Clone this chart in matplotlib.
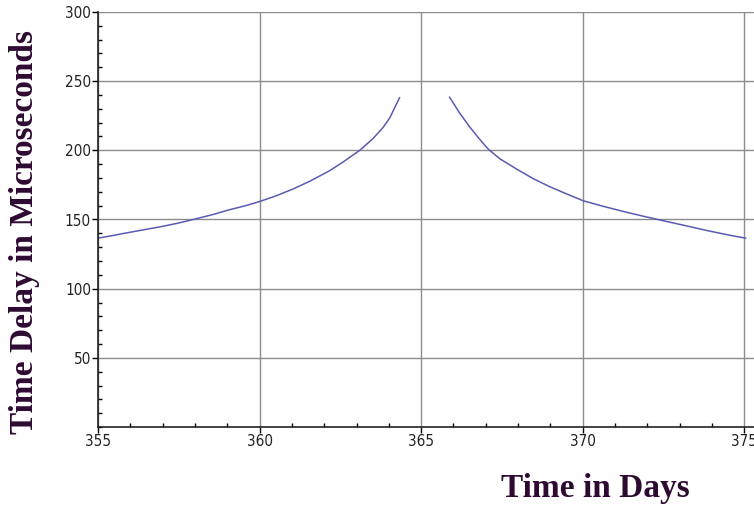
import matplotlib
matplotlib.use("Agg")
import matplotlib.pyplot as plt
from matplotlib.ticker import MultipleLocator

# curve, two branches around day 365
days_before = [355.0, 355.43, 355.95, 356.99, 357.5, 358.0, 358.54, 359.06, 359.57, 360.0,
               360.5, 361.03, 361.54, 362.17, 362.58, 363.1, 363.51, 363.82, 364.03, 364.33]
delay_before = [136.5, 138.3, 140.6, 145.0, 147.5, 150.3, 153.5, 157.0, 160.0, 163.0,
                167.0, 172.0, 177.5, 185.3, 191.5, 200.0, 208.5, 216.5, 223.5, 238.0]
days_after = [365.88, 366.19, 366.5, 366.81, 367.07, 367.43, 367.95, 368.47, 368.98, 369.5,
              370.02, 370.64, 371.26, 371.85, 372.4, 373.13, 373.85, 374.47, 375.04]
delay_after = [238.4, 227.0, 217.0, 208.0, 201.0, 194.0, 186.5, 179.5, 173.7, 168.5,
               163.5, 159.5, 155.8, 152.5, 149.6, 145.8, 142.0, 139.0, 136.5]

x_ticks = [355, 360, 365, 370, 375]
y_ticks = [50, 100, 150, 200, 250, 300]

label_col = "#2e0a33"
line_col = "#5a5ab4"

fig = plt.figure(figsize=(7.54, 5.08), dpi=100)
ax = fig.add_axes([98 / 754, 81 / 508, 656 / 754, 415 / 508])

ax.plot(days_before, delay_before, color=line_col, lw=1.1)
ax.plot(days_after, delay_after, color=line_col, lw=1.1)

ax.set_xlim(355, 375.3)
ax.set_ylim(0, 300)
ax.set_xticks(x_ticks)
ax.set_yticks(y_ticks)
ax.xaxis.set_minor_locator(MultipleLocator(1))
ax.yaxis.set_minor_locator(MultipleLocator(10))
ax.grid(True, which="major", color="#8c8c8c", lw=1)
ax.set_axisbelow(True)

for s in ["top", "right"]:
    ax.spines[s].set_visible(False)
for s in ["left", "bottom"]:
    ax.spines[s].set_color("#222222")
    ax.spines[s].set_linewidth(1.2)

ax.tick_params(which="major", direction="out", length=4, width=1, pad=1,
               labelsize=11, labelcolor="#222222")
ax.tick_params(which="minor", direction="in", length=3, width=1)
for t in ax.get_xticklabels() + ax.get_yticklabels():
    t.set_fontfamily("DejaVu Sans")
    t.set_fontstretch("condensed")

fig.text(595 / 754, 1 - 488 / 508, "Time in Days", ha="center", va="center",
         fontsize=24, fontweight="bold", family="Liberation Serif", color=label_col)
fig.text(25 / 754, 1 - 232 / 508, "Time Delay in Microseconds", ha="center", va="center",
         rotation=90, fontsize=24, fontweight="bold", family="Liberation Serif",
         color=label_col)

fig.savefig("out.png", dpi=100)
